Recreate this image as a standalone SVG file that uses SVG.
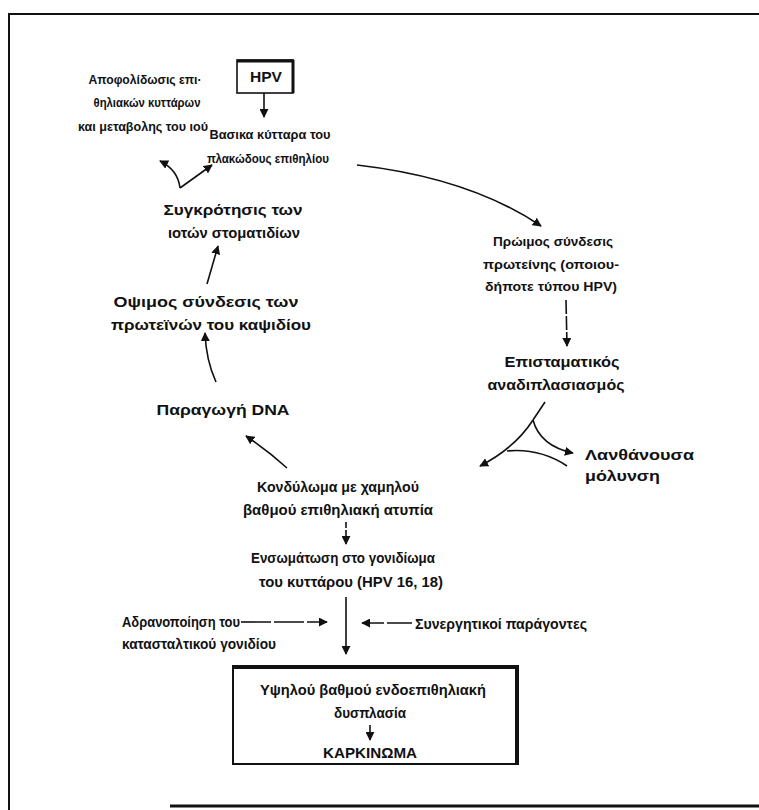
<svg xmlns="http://www.w3.org/2000/svg" width="759" height="810" viewBox="0 0 759 810">
<style>
  text { font-family: "Liberation Sans", Arial, sans-serif; font-weight: bold; font-size: 14px; fill: #111; text-anchor: middle; }
  text.s { text-anchor: start; }
  text.sm { font-size: 13.5px; }
  .c { fill: none; stroke: #111; stroke-width: 1.6; }
  .frame { fill: none; stroke: #111; }
</style>
<defs>
  <marker id="ah" viewBox="0 0 10 10" refX="9" refY="5" markerWidth="9" markerHeight="9" markerUnits="userSpaceOnUse" orient="auto">
    <path d="M0,0 L10,5 L0,10 Z" fill="#111"/>
  </marker>
</defs>
<rect width="759" height="810" fill="#fff"/>
<g id="frame">
  <line class="frame" x1="8" y1="14" x2="759" y2="14" stroke-width="2"/>
  <line class="frame" x1="9" y1="13" x2="9" y2="810" stroke-width="2"/>
  <line class="frame" x1="170" y1="806" x2="759" y2="806" stroke-width="3"/>
</g>
<g id="hpv">
  <rect x="237" y="60" width="56" height="33" fill="#fff" stroke="#111" stroke-width="1.6"/>
  <line x1="237" y1="61" x2="294" y2="61" stroke="#111" stroke-width="3"/>
  <line x1="293" y1="60" x2="293" y2="93" stroke="#111" stroke-width="3"/>
  <text x="266" y="82" font-size="15" textLength="32" lengthAdjust="spacingAndGlyphs">HPV</text>
</g>
<g id="basal">
  <text class="sm" x="270" y="139" textLength="121" lengthAdjust="spacingAndGlyphs">Βασικα κύτταρα του</text>
  <text class="sm" x="268" y="163" textLength="122" lengthAdjust="spacingAndGlyphs">πλακώδους επιθηλίου</text>
</g>
<g id="shedding">
  <text class="sm" x="145" y="84" textLength="113" lengthAdjust="spacingAndGlyphs">Αποφολίδωσις επι·</text>
  <text class="sm" x="147" y="107" textLength="107" lengthAdjust="spacingAndGlyphs">θηλιακών κυττάρων</text>
  <text class="sm" x="143" y="131" textLength="130" lengthAdjust="spacingAndGlyphs">και μεταβολης του ιού</text>
</g>
<g id="assembly">
  <text x="233" y="215" textLength="139" lengthAdjust="spacingAndGlyphs">Συγκρότησις των</text>
  <text x="234" y="238" textLength="132" lengthAdjust="spacingAndGlyphs">ιοτών στοματιδίων</text>
</g>
<g id="late">
  <text x="206" y="307" textLength="185" lengthAdjust="spacingAndGlyphs">Οψιμος σύνδεσις των</text>
  <text x="211" y="330" textLength="200" lengthAdjust="spacingAndGlyphs">πρωτεϊνών του καψιδίου</text>
</g>
<g id="dna">
  <text x="223" y="415" textLength="133" lengthAdjust="spacingAndGlyphs">Παραγωγή DNA</text>
</g>
<g id="early">
  <text class="sm" x="553" y="246" textLength="120" lengthAdjust="spacingAndGlyphs">Πρώιμος σύνδεσις</text>
  <text class="sm" x="551" y="269" textLength="136" lengthAdjust="spacingAndGlyphs">πρωτείνης (οποιου-</text>
  <text class="sm" x="551" y="291" textLength="132" lengthAdjust="spacingAndGlyphs">δήποτε τύπου HPV)</text>
</g>
<g id="episomal">
  <text x="562" y="367" textLength="115" lengthAdjust="spacingAndGlyphs">Επισταματικός</text>
  <text x="556" y="390" textLength="137" lengthAdjust="spacingAndGlyphs">αναδιπλασιασμός</text>
</g>
<g id="latent">
  <text class="s" x="585" y="460" textLength="109" lengthAdjust="spacingAndGlyphs">Λανθάνουσα</text>
  <text class="s" x="585" y="481" textLength="75" lengthAdjust="spacingAndGlyphs">μόλυνση</text>
</g>
<g id="condyloma">
  <text x="338" y="492" textLength="162" lengthAdjust="spacingAndGlyphs">Κονδύλωμα με χαμηλού</text>
  <text x="338" y="515" textLength="190" lengthAdjust="spacingAndGlyphs">βαθμού επιθηλιακή ατυπία</text>
</g>
<g id="integration">
  <text x="343" y="563" textLength="184" lengthAdjust="spacingAndGlyphs">Ενσωμάτωση στο γονιδίωμα</text>
  <text x="351" y="587" textLength="184" lengthAdjust="spacingAndGlyphs">του κυττάρου (HPV 16, 18)</text>
</g>
<g id="inactivation">
  <text class="s" x="122" y="627" textLength="118" lengthAdjust="spacingAndGlyphs">Αδρανοποίηση του</text>
  <text class="s" x="122" y="649" textLength="154" lengthAdjust="spacingAndGlyphs">κατασταλτικού γονιδίου</text>
</g>
<g id="cofactors">
  <text class="s" x="415" y="629" textLength="172" lengthAdjust="spacingAndGlyphs">Συνεργητικοί παράγοντες</text>
</g>
<g id="result">
  <rect x="233" y="666" width="285" height="98" fill="#fff" stroke="#111" stroke-width="2"/>
  <line x1="233" y1="667" x2="519" y2="667" stroke="#111" stroke-width="4"/>
  <line x1="517" y1="666" x2="517" y2="764" stroke="#111" stroke-width="4"/>
  <text x="373" y="695" textLength="226" lengthAdjust="spacingAndGlyphs">Υψηλού βαθμού ενδοεπιθηλιακή</text>
  <text x="370" y="718" textLength="72" lengthAdjust="spacingAndGlyphs">δυσπλασία</text>
  <line x1="370" y1="725" x2="370" y2="740" class="c" marker-end="url(#ah)"/>
  <text x="370" y="758" font-size="15" textLength="94" lengthAdjust="spacingAndGlyphs">ΚΑΡΚΙΝΩΜΑ</text>
</g>
<g id="connectors">
  <path class="c" d="M264,93 L264,117" marker-end="url(#ah)"/>
  <path class="c" d="M357,165 Q470,178 541,226" marker-end="url(#ah)"/>
  <path class="c" d="M566,300 L567,346" stroke-dasharray="14,2" marker-end="url(#ah)"/>
  <path class="c" d="M545,402 L533,420"/>
  <path class="c" d="M533,420 Q515,448 480,466" marker-end="url(#ah)"/>
  <path class="c" d="M533,420 Q540,446 573,453" marker-end="url(#ah)"/>
  <path class="c" d="M507,451 Q540,448 567,466"/>
  <path class="c" d="M346,522 L346,544" stroke-dasharray="6,2" marker-end="url(#ah)"/>
  <path class="c" d="M346,597 L346,654" marker-end="url(#ah)"/>
  <path class="c" d="M241,622 L327,622" stroke-dasharray="30,3" marker-end="url(#ah)"/>
  <path class="c" d="M412,623 L362,623" stroke-dasharray="25,3" marker-end="url(#ah)"/>
  <path class="c" d="M287,468 Q268,451 246,436" marker-end="url(#ah)"/>
  <path class="c" d="M216,382 Q206,360 205,333" marker-end="url(#ah)"/>
  <path class="c" d="M207,284 L218,246" marker-end="url(#ah)"/>
  <path class="c" d="M180,188 Q178,170 160,161" marker-end="url(#ah)"/>
  <path class="c" d="M180,188 L212,165" marker-end="url(#ah)"/>
</g>
</svg>
